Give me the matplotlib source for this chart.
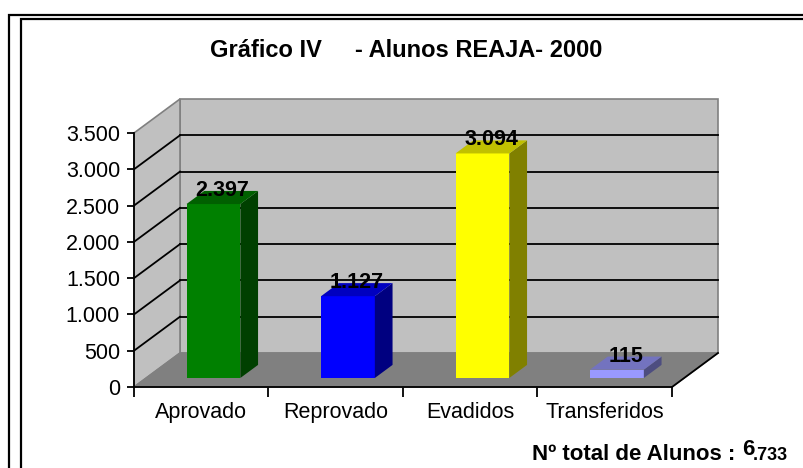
import matplotlib
matplotlib.use("Agg")
import matplotlib.pyplot as plt
from matplotlib.patches import Polygon, Rectangle

plt.rcParams['font.family'] = ['Liberation Sans', 'DejaVu Sans']

# data
categories = ["Aprovado", "Reprovado", "Evadidos", "Transferidos"]
values = [2397, 1127, 3094, 115]
front_colors = ["#008000", "#0000FF", "#FFFF00", "#9999FF"]
side_colors = ["#004000", "#000080", "#808000", "#4D4D80"]
top_colors = ["#006000", "#0000C0", "#C0C000", "#7373BF"]
yticks = [0, 500, 1000, 1500, 2000, 2500, 3000, 3500]
title = "Gráfico IV     - Alunos REAJA- 2000"


def fmt(n):
    return f"{n:,}".replace(",", ".")


W, H = 804, 468
fig = plt.figure(figsize=(W / 100, H / 100), dpi=100)
ax = fig.add_axes([134 / W, (H - 387) / H, (672 - 134) / W, (387 - 133) / H])
ax.set_xlim(-0.5, 3.5)
ax.set_ylim(0, 3500)
ax.patch.set_alpha(0)

# depth of the 3d box in data units
DX = 46 / 134.5
DY = 34 / (254 / 3500)
x0, x1 = -0.5, 3.5
ytop = yticks[-1]

# walls and floor
wall = "#C0C0C0"
edge = "#808080"
ax.add_patch(Polygon([(x0 + DX, DY), (x1 + DX, DY), (x1 + DX, ytop + DY), (x0 + DX, ytop + DY)],
                     closed=True, fc=wall, ec=edge, lw=1.2, clip_on=False, zorder=0))
ax.add_patch(Polygon([(x0, 0), (x0 + DX, DY), (x0 + DX, ytop + DY), (x0, ytop)],
                     closed=True, fc=wall, ec=edge, lw=1.2, clip_on=False, zorder=0))

# gridlines
for t in yticks[1:-1]:
    ax.plot([x0 + DX, x1 + DX], [t + DY, t + DY], color="black", lw=1.3, clip_on=False, zorder=1)
    ax.plot([x0, x0 + DX], [t, t + DY], color="black", lw=1.3, clip_on=False, zorder=1)

ax.add_patch(Polygon([(x0, 0), (x1, 0), (x1 + DX, DY), (x0 + DX, DY)],
                     closed=True, fc=edge, ec=edge, lw=1, clip_on=False, zorder=2))
ax.plot([x1, x1 + DX], [0, DY], color="black", lw=1.3, clip_on=False, zorder=3)

# bars
f0, bd = 0.265, 0.385
bw = 0.4
for i, v in enumerate(values):
    left = i - bw / 2 + f0 * DX
    base = f0 * DY
    ax.bar(left, v, width=bw, bottom=base, align="edge", color=front_colors[i],
           lw=0, clip_on=False, zorder=4)
    r = left + bw
    ax.add_patch(Polygon([(r, base), (r + bd * DX, base + bd * DY),
                          (r + bd * DX, base + v + bd * DY), (r, base + v)],
                         closed=True, fc=side_colors[i], ec="none", clip_on=False, zorder=4))
    ax.add_patch(Polygon([(left, base + v), (r, base + v), (r + bd * DX, base + v + bd * DY),
                          (left + bd * DX, base + v + bd * DY)],
                         closed=True, fc=top_colors[i], ec="none", clip_on=False, zorder=4))
    ax.text(left + bw / 2 + bd * DX / 2, base + v + bd * DY / 2 + 20, fmt(v),
            ha="center", va="baseline", fontsize=15.5, fontweight="bold", zorder=6)

# axes
for s in ["top", "right"]:
    ax.spines[s].set_visible(False)
ax.spines["left"].set_linewidth(1.3)
ax.spines["bottom"].set_linewidth(1.3)
ax.spines["left"].set_zorder(5)
ax.spines["bottom"].set_zorder(5)
ax.set_yticks(yticks)
ax.set_yticklabels([fmt(t) for t in yticks], fontsize=15.5)
ax.tick_params(axis="y", length=5, width=1.3, pad=5)
ax.set_xticks([i - 0.5 for i in range(len(categories) + 1)])
ax.set_xticklabels([])
ax.tick_params(axis="x", length=7, width=1.3)
ax.set_xticks(range(len(categories)), minor=True)
ax.set_xticklabels(categories, minor=True, fontsize=15.5)
ax.tick_params(axis="x", which="minor", length=0, pad=11)

# title and total
fig.text(406 / W, 1 - 57 / H, title, ha="center", va="baseline", fontsize=17, fontweight="bold")
total = sum(values)
tot = fmt(total)
fig.text(735 / W, 1 - 460 / H, "Nº total de Alunos :", ha="right", va="baseline",
         fontsize=16, fontweight="bold")
fig.text(742 / W, 1 - 455 / H, tot[0], ha="left", va="baseline", fontsize=16, fontweight="bold")
fig.text(753 / W, 1 - 460 / H, tot[1:], ha="left", va="baseline", fontsize=13, fontweight="bold")

# double frame
fig.add_artist(Rectangle((9.5 / W, -0.1), 1.2, 1.1 - 15 / H, transform=fig.transFigure,
                         fill=False, ec="black", lw=1.6))
fig.add_artist(Rectangle((21.5 / W, -0.1), 1.2, 1.1 - 19.5 / H, transform=fig.transFigure,
                         fill=False, ec="black", lw=1.6))

fig.savefig("out.png", dpi=100)
